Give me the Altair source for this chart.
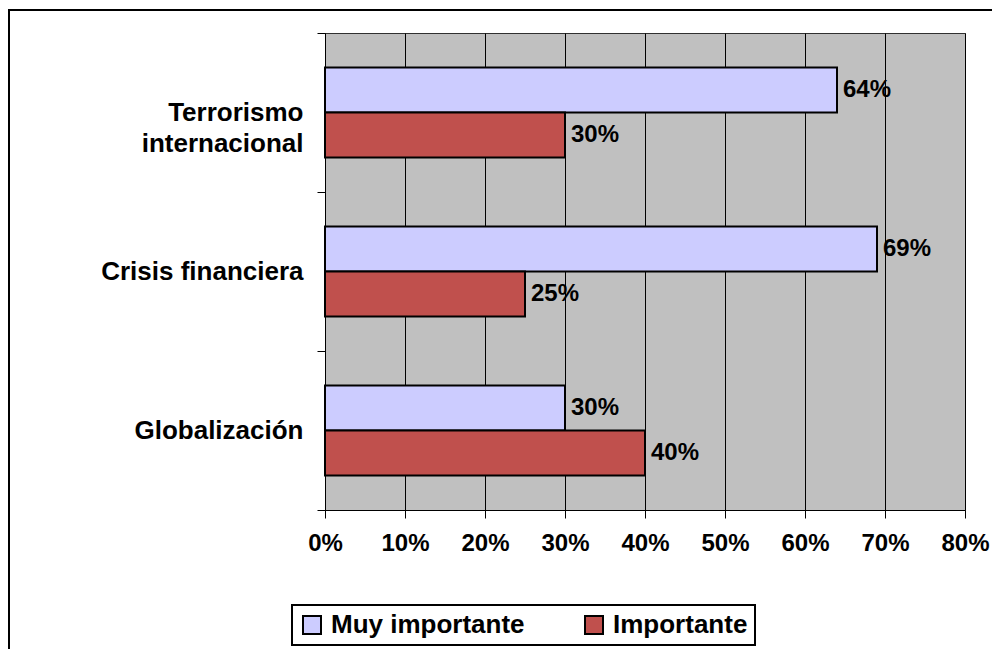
import altair as alt
import pandas as pd

categories = ["Terrorismo internacional", "Crisis financiera", "Globalización"]
series = ["Muy importante", "Importante"]
muy_importante = [64, 69, 30]
importante = [30, 25, 40]
x_ticks = [0, 10, 20, 30, 40, 50, 60, 70, 80]
colors = ["#CCCCFF", "#C0504D"]

rows = []
for c, m, i in zip(categories, muy_importante, importante):
    rows.append({"cat": c, "serie": series[0], "val": m})
    rows.append({"cat": c, "serie": series[1], "val": i})
df = pd.DataFrame(rows)

FONT = "Liberation Sans"
W, H = 640, 477

base = alt.Chart(df).transform_calculate(lbl="datum.val + '%'")

x_enc = alt.X(
    "val:Q",
    scale=alt.Scale(domain=[0, 80], nice=False),
    axis=alt.Axis(
        values=x_ticks,
        labelExpr="datum.value + '%'",
        title=None,
        grid=True,
        gridColor="#000000",
        gridWidth=1,
        gridOpacity=1,
        domainColor="#000000",
        tickColor="#000000",
        tickSize=8,
        labelFontSize=24,
        labelFont=FONT,
        labelFontWeight="bold",
        labelColor="#000000",
        labelPadding=13,
        labelFlush=False,
        labelLimit=0,
    ),
)
y_enc = alt.Y(
    "cat:N",
    sort=categories,
    scale=alt.Scale(paddingInner=0, paddingOuter=0),
    axis=alt.Axis(
        title=None,
        grid=False,
        tickBand="extent",
        tickSize=8,
        tickColor="#000000",
        domainColor="#000000",
        labelFontSize=26,
        labelFont=FONT,
        labelFontWeight="bold",
        labelColor="#000000",
        labelPadding=14,
        labelLineHeight=31,
        labelLimit=0,
        labelExpr="datum.label == 'Terrorismo internacional' ? ['Terrorismo', 'internacional'] : datum.label",
    ),
)
yoff = alt.YOffset(
    "serie:N", sort=series, scale=alt.Scale(paddingInner=0, paddingOuter=0.767)
)

bars = base.mark_bar(stroke="#000000", strokeWidth=2).encode(
    x=x_enc,
    y=y_enc,
    yOffset=yoff,
    color=alt.Color(
        "serie:N",
        sort=series,
        scale=alt.Scale(domain=series, range=colors),
        legend=alt.Legend(
            title=None,
            orient="none",
            direction="horizontal",
            legendX=-33,
            legendY=572,
            symbolType="square",
            symbolSize=324,
            symbolStrokeColor="#000000",
            symbolStrokeWidth=2,
            labelFontSize=26,
            labelFont=FONT,
            labelFontWeight="bold",
            labelColor="#000000",
            labelOffset=6,
            labelLimit=0,
            columnPadding=56,
            padding=7,
            strokeColor="#000000",
        ),
    ),
)

texts = base.mark_text(
    align="left", baseline="middle", dx=6, fontSize=24, font=FONT, fontWeight="bold", color="#000000"
).encode(
    x="val:Q",
    y=alt.Y("cat:N", sort=categories),
    yOffset=alt.YOffset("serie:N", sort=series),
    text="lbl:N",
)

frame = alt.Chart(pd.DataFrame({"k": [0]})).mark_rect(
    fill="transparent", stroke="#000000", strokeWidth=2
).encode(
    x=alt.value(-316), x2=alt.value(720), y=alt.value(-23), y2=alt.value(720)
)

chart = (
    alt.layer(frame, bars, texts)
    .properties(
        width=W,
        height=H,
        autosize=alt.AutoSizeParams(type="none"),
        padding={"left": 317, "top": 25, "right": 27, "bottom": 139},
        background="#FFFFFF",
    )
    .configure_view(fill="#C0C0C0", stroke="#303030", strokeWidth=1)
    .configure_legend(strokeWidth=2)
)

chart.save("out.html", embed_options={"renderer": "svg", "actions": False})
